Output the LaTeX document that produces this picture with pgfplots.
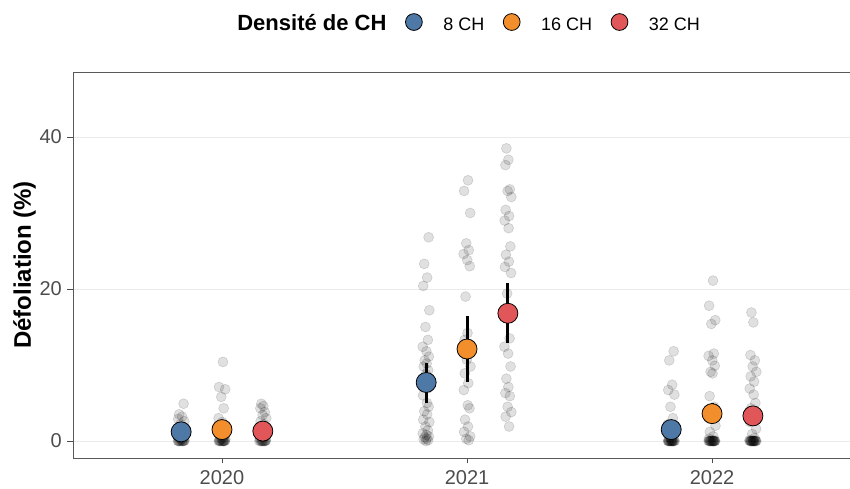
\documentclass[border=0pt]{standalone}
\usepackage{fontspec}
\setmainfont{Liberation Sans}
\usepackage{pgfplots}
\usepackage{pgfplotstable}
\pgfplotsset{compat=1.18}
\definecolor{c8}{HTML}{4E79A7}
\definecolor{c16}{HTML}{F28E2B}
\definecolor{c32}{HTML}{E15759}
\definecolor{tickgray}{HTML}{4D4D4D}
\definecolor{gridgray}{HTML}{EBEBEB}
\pgfplotsset{mylegend/.style={legend image code/.code={\draw[##1, mark size=8.4pt] plot coordinates {(8.4pt,8pt)};}}}

\pgfplotstableread{
g y j
-0.1667 4.9 0.010
-0.1667 3.5 -0.008
-0.1667 3.2 0.004
-0.1667 2.9 -0.012
-0.1667 2.6 0.013
-0.1667 2.2 -0.003
-0.1667 1.8 0.007
-0.1667 1.5 -0.014
-0.1667 1.2 0.001
-0.1667 1.0 0.011
-0.1667 0.8 -0.006
-0.1667 0.6 0.002
-0.1667 0.4 -0.010
-0.1667 0.3 0.008
-0.1667 0.2 -0.001
-0.1667 0.1 0.014
-0.1667 0 -0.009
-0.1667 0 0.005
-0.1667 0 -0.013
-0.1667 0 0.003
-0.1667 0 0.010
-0.1667 0 -0.006
-0.1667 0 0.012
-0.1667 0 -0.002
-0.1667 0 0.007
-0.1667 0 -0.011
0 10.4 0.004
0 7.1 -0.012
0 6.8 0.013
0 5.8 -0.003
0 4.3 0.007
0 3.0 -0.014
0 2.5 0.001
0 2.0 0.011
0 1.5 -0.006
0 1.1 0.002
0 0.8 -0.010
0 0.5 0.008
0 0.3 -0.001
0 0.2 0.014
0 0.1 -0.009
0 0 0.005
0 0 -0.013
0 0 0.003
0 0 0.010
0 0 -0.008
0 0 0.012
0 0 -0.004
0 0 0.007
0 0 -0.011
0 0 0.000
0 0 0.006
0.1667 4.9 -0.006
0.1667 4.6 0.002
0.1667 4.3 -0.010
0.1667 3.8 0.008
0.1667 3.4 -0.001
0.1667 3.0 0.014
0.1667 2.6 -0.009
0.1667 2.2 0.005
0.1667 1.8 -0.013
0.1667 1.4 0.003
0.1667 1.0 0.010
0.1667 0.8 -0.008
0.1667 0.5 0.004
0.1667 0.3 -0.012
0.1667 0.1 0.013
0.1667 0 -0.003
0.1667 0 0.007
0.1667 0 -0.014
0.1667 0 0.001
0.1667 0 0.011
0.1667 0 -0.006
0.1667 0 0.009
0.1667 0 -0.010
0.1667 0 0.004
0.1667 0 -0.002
0.8333 26.8 0.010
0.8333 23.3 -0.008
0.8333 21.5 0.004
0.8333 20.4 -0.012
0.8333 17.2 0.013
0.8333 15.0 -0.003
0.8333 13.3 0.007
0.8333 12.4 -0.014
0.8333 11.8 0.001
0.8333 11.1 0.011
0.8333 10.6 -0.006
0.8333 10.2 0.002
0.8333 9.8 -0.010
0.8333 9.3 0.008
0.8333 8.8 -0.001
0.8333 8.2 0.014
0.8333 7.5 -0.009
0.8333 6.9 0.005
0.8333 6.0 -0.013
0.8333 5.0 0.003
0.8333 4.5 0.010
0.8333 3.9 -0.008
0.8333 3.5 0.004
0.8333 2.8 -0.012
0.8333 2.5 0.013
0.8333 1.9 -0.003
0.8333 1.4 0.007
0.8333 1.0 -0.014
0.8333 0.8 0.001
0.8333 0.6 0.011
0.8333 0.5 -0.006
0.8333 0.3 0.002
0.8333 0.2 -0.010
0.8333 0.1 0.008
0.8333 0.0 -0.001
1 34.3 0.004
1 32.9 -0.012
1 30.0 0.013
1 26.0 -0.003
1 25.1 0.007
1 24.6 -0.014
1 23.8 0.001
1 23.0 0.011
1 19.0 -0.006
1 14.2 0.002
1 13.3 -0.010
1 12.5 0.008
1 10.7 -0.001
1 9.8 0.014
1 8.9 -0.009
1 7.6 0.005
1 6.7 -0.013
1 4.7 0.003
1 4.3 0.010
1 2.8 -0.008
1 1.9 0.004
1 1.2 -0.012
1 0.6 0.013
1 0.3 -0.003
1 0.1 0.007
1.1667 38.5 -0.006
1.1667 37.0 0.002
1.1667 36.3 -0.010
1.1667 33.1 0.008
1.1667 32.9 -0.001
1.1667 32.1 0.014
1.1667 30.4 -0.009
1.1667 29.6 0.005
1.1667 29.0 -0.013
1.1667 28.0 0.003
1.1667 25.6 0.010
1.1667 24.5 -0.008
1.1667 23.6 0.004
1.1667 22.9 -0.012
1.1667 22.1 0.013
1.1667 19.4 -0.003
1.1667 13.5 0.007
1.1667 12.4 -0.014
1.1667 11.5 0.001
1.1667 9.8 0.011
1.1667 8.2 -0.006
1.1667 7.1 0.002
1.1667 6.3 -0.010
1.1667 5.9 0.008
1.1667 4.5 -0.001
1.1667 3.8 0.014
1.1667 3.2 -0.009
1.1667 1.9 0.005
1.8333 11.8 0.010
1.8333 10.6 -0.008
1.8333 7.4 0.004
1.8333 6.7 -0.012
1.8333 6.1 0.013
1.8333 4.5 -0.003
1.8333 3.0 0.007
1.8333 2.2 -0.014
1.8333 1.5 0.001
1.8333 1.0 0.011
1.8333 0.5 -0.006
1.8333 0.2 0.002
1.8333 0 -0.010
1.8333 0 0.008
1.8333 0 -0.001
1.8333 0 0.014
1.8333 0 -0.009
1.8333 0 0.005
1.8333 0 -0.013
1.8333 0 0.003
1.8333 0 0.010
1.8333 0 -0.008
1.8333 0 0.004
1.8333 0 -0.012
1.8333 0 0.012
1.8333 0 -0.004
1.8333 0 0.006
1.8333 0 -0.002
1.8333 0 0.001
2 21.1 0.004
2 17.8 -0.012
2 15.9 0.013
2 15.4 -0.003
2 11.5 0.007
2 11.2 -0.014
2 10.6 0.001
2 9.9 0.011
2 9.1 -0.006
2 8.9 0.002
2 5.9 -0.010
2 4.5 0.008
2 3.2 -0.001
2 2.0 0.014
2 1.2 -0.009
2 0.6 0.005
2 0.3 -0.013
2 0 0.003
2 0 0.010
2 0 -0.008
2 0 0.004
2 0 -0.012
2 0 0.013
2 0 -0.003
2 0 0.007
2 0 -0.014
2 0 0.001
2 0 0.011
2 0 -0.006
2 0 0.009
2 0 -0.010
2 0 0.002
2 0 -0.004
2 0 0.006
2.1667 16.9 -0.006
2.1667 15.6 0.002
2.1667 11.3 -0.010
2.1667 10.6 0.008
2.1667 9.8 -0.001
2.1667 9.1 0.014
2.1667 8.5 -0.009
2.1667 7.8 0.005
2.1667 6.9 -0.013
2.1667 6.1 0.003
2.1667 5.0 0.010
2.1667 4.3 -0.008
2.1667 3.5 0.004
2.1667 2.5 -0.012
2.1667 1.6 0.013
2.1667 0.9 -0.003
2.1667 0.4 0.007
2.1667 0.1 -0.014
2.1667 0 0.001
2.1667 0 0.011
2.1667 0 -0.006
2.1667 0 0.002
2.1667 0 -0.010
2.1667 0 0.008
2.1667 0 -0.001
2.1667 0 0.014
2.1667 0 -0.009
2.1667 0 0.005
2.1667 0 -0.013
2.1667 0 0.003
2.1667 0 0.012
2.1667 0 -0.004
2.1667 0 0.006
2.1667 0 -0.007
2.1667 0 0.000
}\rawdata

\begin{document}
\begin{tikzpicture}
\path[use as bounding box] (-73pt,-31pt) rectangle (777pt,458pt);
\begin{axis}[
  name=ax,
  at={(0pt,0pt)}, anchor=south west,
  scale only axis, width=777pt, height=386pt,
  xmin=-0.608, xmax=2.563, ymin=-2.24, ymax=48.55,
  xtick={0,1,2}, xticklabels={2020,2021,2022},
  ytick={0,20,40},
  /pgf/number format/assume math mode=true,
  axis line style={draw=none},
  tick align=outside, xtick pos=bottom, ytick pos=left,
  major tick length=5.5pt,
  tick style={draw=black!70, line width=0.9pt},
  ymajorgrids, grid style={draw=gridgray, line width=0.9pt},
  ticklabel style={font=\fontsize{20}{22}\selectfont, text=tickgray, inner sep=0pt},
  yticklabel style={xshift=-5.5pt},
  xticklabel style={yshift=-7pt},
  ylabel={Défoliation (\%)},
  every axis y label/.style={at={(axis description cs:0,0.5)}, xshift=-42pt, rotate=90, anchor=base, font=\bfseries\fontsize{24}{26}\selectfont},
  legend columns=-1,
  legend style={at={(axis description cs:0.1845,1.128)}, anchor=west, draw=none, fill=none, inner sep=0pt, outer sep=0pt,
    nodes={inner sep=0pt, anchor=base west}, font=\fontsize{18}{20}\selectfont,
    /tikz/every odd column/.append style={column sep=21pt},
    /tikz/every even column/.append style={column sep=19pt},
    /tikz/column 1/.append style={column sep=0pt},
    /tikz/column 2/.append style={column sep=18pt}},
  clip=false,
]
\addlegendimage{empty legend}
\addlegendentry{\bfseries\fontsize{22}{24}\selectfont Densité de CH}

\addplot[forget plot, only marks, mark=*, mark size=5pt,
  mark options={draw=black, fill=black, draw opacity=0.14, fill opacity=0.12, line width=0.6pt}]
  table[x expr=\thisrow{g}+\thisrow{j}, y=y] {\rawdata};

\addplot[forget plot, only marks, mark=none,
  error bars/.cd, y dir=both, y explicit, error mark=none,
  error bar style={line width=3pt, draw=black}]
  coordinates {
  (-0.1667,1.2) += (0,0.7) -= (0,0.7)
  (0.8333,7.7) += (0,2.5) -= (0,2.7)
  (1.8333,1.5) += (0,0.9) -= (0,0.9)
  (0,1.5) += (0,0.8) -= (0,0.8)
  (1,12.1) += (0,4.3) -= (0,4.3)
  (2,3.6) += (0,1.4) -= (0,1.3)
  (0.1667,1.3) += (0,0.7) -= (0,0.7)
  (1.1667,16.8) += (0,4.0) -= (0,3.9)
  (2.1667,3.3) += (0,1.2) -= (0,1.2)
  };

\addplot[only marks, mark=*, mark size=10pt, mark options={fill=c8, draw=black, line width=0.8pt}, mylegend]
  coordinates {(-0.1667,1.2) (0.8333,7.7) (1.8333,1.5)};
\addlegendentry{8 CH}
\addplot[only marks, mark=*, mark size=10pt, mark options={fill=c16, draw=black, line width=0.8pt}, mylegend]
  coordinates {(0,1.5) (1,12.1) (2,3.6)};
\addlegendentry{16 CH}
\addplot[only marks, mark=*, mark size=10pt, mark options={fill=c32, draw=black, line width=0.8pt}, mylegend]
  coordinates {(0.1667,1.3) (1.1667,16.8) (2.1667,3.3)};
\addlegendentry{32 CH}
\end{axis}
\draw[black!65, line width=0.9pt] (ax.north east) -- (ax.north west) -- (ax.south west) -- (ax.south east);
\end{tikzpicture}
\end{document}
